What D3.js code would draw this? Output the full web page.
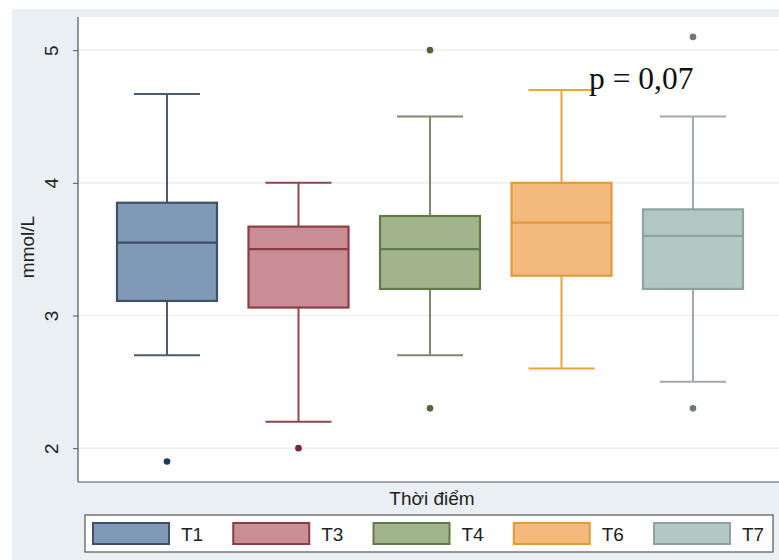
<!DOCTYPE html>
<html>
<head>
<meta charset="utf-8">
<script src="https://cdn.jsdelivr.net/npm/d3@7"></script>
<style>
  body { margin: 0; background: #fff; }
  svg { display: block; font-family: Arial, "Liberation Sans", sans-serif; }
</style>
</head>
<body>
<svg id="chart" width="779" height="560"></svg>
<script>
// data
const categories = ["T1", "T3", "T4", "T6", "T7"];
const lowerWhisker = [2.7, 2.2, 2.7, 2.6, 2.5];
const q1 = [3.11, 3.06, 3.2, 3.3, 3.2];
const median = [3.55, 3.5, 3.5, 3.7, 3.6];
const q3 = [3.85, 3.67, 3.75, 4.0, 3.8];
const upperWhisker = [4.67, 4.0, 4.5, 4.7, 4.5];
const outliers = [[1.9], [2.0], [5.0, 2.3], [], [5.1, 2.3]];
const yTicks = [2, 3, 4, 5];

const fills = ["#8099b7", "#c98d96", "#a2b48b", "#f4ba7b", "#b4c8c3"];
const strokes = ["#3e5168", "#8d3c46", "#627a48", "#e29a3a", "#8ea39e"];
const whiskerCols = ["#4b5b70", "#8e4650", "#7b8a6c", "#e9a43a", "#a2aaa9"];
const dotCols = ["#1c3a5e", "#7a2434", "#56613f", "#d08020", "#6e7977"];

const width = 779, height = 560;
const plot = { left: 78, right: 779, top: 17, bottom: 482 };
const boxW = 100;

const svg = d3.select("#chart");

// outer grey region
svg.append("rect").attr("x", 12).attr("y", 9).attr("width", width - 12).attr("height", height - 9)
  .attr("fill", "#e9eff2");
svg.append("rect").attr("x", plot.left).attr("y", plot.top)
  .attr("width", plot.right - plot.left).attr("height", plot.bottom - plot.top)
  .attr("fill", "#fff");

const x = d3.scalePoint().domain(categories).range([167, 693]);
const y = d3.scaleLinear().domain([1.745, 5.25]).range([plot.bottom, plot.top]);

// grid
svg.append("g").selectAll("line").data(yTicks).join("line")
  .attr("x1", plot.left).attr("x2", plot.right)
  .attr("y1", d => y(d)).attr("y2", d => y(d))
  .attr("stroke", "#e6ebee").attr("stroke-width", 1.2);

// y axis
const yAxis = svg.append("g").attr("transform", `translate(${plot.left},0)`)
  .call(d3.axisLeft(y).tickValues(yTicks).tickSize(5).tickFormat(d3.format("d")));
yAxis.select(".domain").remove();
yAxis.selectAll(".tick line").attr("stroke", "#555");
yAxis.selectAll(".tick text")
  .attr("transform", "rotate(-90)")
  .attr("x", 0).attr("y", -20).attr("dy", 0)
  .attr("text-anchor", "middle")
  .attr("font-size", 19).attr("fill", "#222");
svg.append("line").attr("x1", plot.left).attr("x2", plot.left)
  .attr("y1", plot.top).attr("y2", plot.bottom).attr("stroke", "#555").attr("stroke-width", 1.2);
svg.append("line").attr("x1", plot.left).attr("x2", plot.right)
  .attr("y1", plot.bottom).attr("y2", plot.bottom).attr("stroke", "#555").attr("stroke-width", 1.2);

svg.append("text").attr("transform", "translate(34,247) rotate(-90)")
  .attr("text-anchor", "middle").attr("font-size", 19).attr("fill", "#222").text("mmol/L");

// boxes
const rows = categories.map((c, i) => ({ c, i }));
const g = svg.append("g").selectAll("g").data(rows).join("g");

g.append("line") // upper whisker
  .attr("x1", d => x(d.c)).attr("x2", d => x(d.c))
  .attr("y1", d => y(q3[d.i])).attr("y2", d => y(upperWhisker[d.i]))
  .attr("stroke", d => whiskerCols[d.i]).attr("stroke-width", 2);
g.append("line")
  .attr("x1", d => x(d.c)).attr("x2", d => x(d.c))
  .attr("y1", d => y(q1[d.i])).attr("y2", d => y(lowerWhisker[d.i]))
  .attr("stroke", d => whiskerCols[d.i]).attr("stroke-width", 2);
g.selectAll(".cap").data(d => [upperWhisker[d.i], lowerWhisker[d.i]].map(v => ({ v, c: d.c, i: d.i })))
  .join("line").attr("class", "cap")
  .attr("x1", d => x(d.c) - 33).attr("x2", d => x(d.c) + 33)
  .attr("y1", d => y(d.v)).attr("y2", d => y(d.v))
  .attr("stroke", d => whiskerCols[d.i]).attr("stroke-width", 2);
g.append("rect")
  .attr("x", d => x(d.c) - boxW / 2).attr("width", boxW)
  .attr("y", d => y(q3[d.i])).attr("height", d => y(q1[d.i]) - y(q3[d.i]))
  .attr("fill", d => fills[d.i]).attr("stroke", d => strokes[d.i]).attr("stroke-width", 2.2);
g.append("line")
  .attr("x1", d => x(d.c) - boxW / 2).attr("x2", d => x(d.c) + boxW / 2)
  .attr("y1", d => y(median[d.i])).attr("y2", d => y(median[d.i]))
  .attr("stroke", d => strokes[d.i]).attr("stroke-width", 2.2);
g.selectAll(".out").data(d => outliers[d.i].map(v => ({ v, c: d.c, i: d.i })))
  .join("circle").attr("class", "out")
  .attr("cx", d => x(d.c)).attr("cy", d => y(d.v)).attr("r", 3.3)
  .attr("fill", d => dotCols[d.i]);

// annotation
svg.append("text").attr("x", 589).attr("y", 89)
  .attr("font-family", "'Liberation Serif', 'Times New Roman', serif")
  .attr("font-size", 31.5).attr("fill", "#111").text("p = 0,07");

// x title
svg.append("text").attr("x", 432).attr("y", 505).attr("text-anchor", "middle")
  .attr("font-size", 19).attr("fill", "#222").text("Thời điểm");

// legend
svg.append("rect").attr("x", 85).attr("y", 515).attr("width", 688).attr("height", 37)
  .attr("fill", "#fff").attr("stroke", "#555").attr("stroke-width", 1.2);
const lx = d3.scalePoint().domain(categories).range([93, 654]);
const leg = svg.append("g").selectAll("g").data(rows).join("g")
  .attr("transform", d => `translate(${lx(d.c)},523)`);
leg.append("rect").attr("width", 76).attr("height", 21)
  .attr("fill", d => fills[d.i]).attr("stroke", d => strokes[d.i]).attr("stroke-width", 2);
leg.append("text").attr("x", 88).attr("y", 17.5).attr("font-size", 19).attr("fill", "#222")
  .text(d => d.c);
</script>
</body>
</html>
